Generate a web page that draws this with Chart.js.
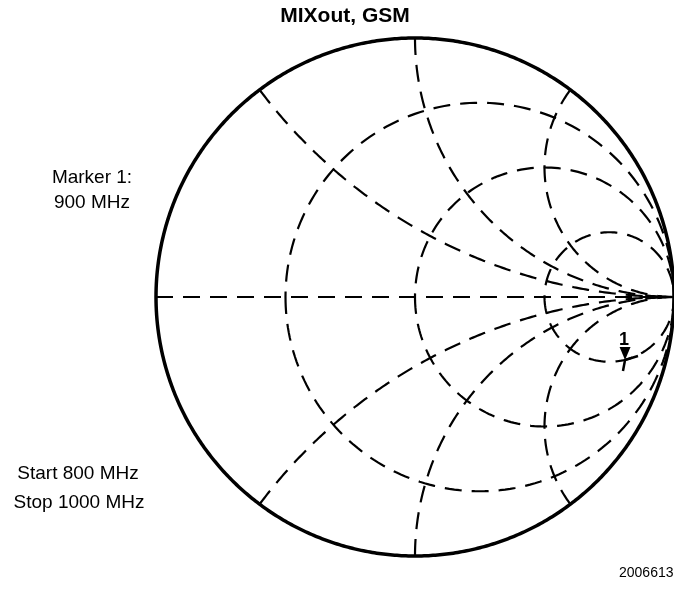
<!DOCTYPE html>
<html>
<head>
<meta charset="utf-8">
<script src="https://cdn.jsdelivr.net/npm/chart.js@4"></script>
<style>
  html, body { margin: 0; padding: 0; background: #fff; }
  #smith { display: block; }
</style>
</head>
<body>
<canvas id="smith" width="674" height="591"></canvas>
<script>
// Smith chart grid values (normalized impedance)
const resistanceValues = [1 / 3, 1, 3];
const reactanceValues = [0.5, 1, 2];

const traceFreqMHz = [800, 900, 1000];
const traceGammaRe = [0.803, 0.811, 0.861];
const traceGammaIm = [-0.286, -0.243, -0.228];
const markerIndex = 1;

const titleText = 'MIXout, GSM';
const markerLines = ['Marker 1:', '900 MHz'];
const sweepLines = ['Start 800 MHz', 'Stop 1000 MHz'];
const figureId = '20066131';

function arc(cx, cy, rad, a0, a1, n) {
    const pts = [];
    for (let i = 0; i <= n; i++) {
        const a = a0 + (a1 - a0) * i / n;
        pts.push({ x: cx + rad * Math.cos(a), y: cy + rad * Math.sin(a) });
    }
    return pts;
}

const dashStyle = {
    showLine: true,
    pointRadius: 0,
    borderColor: '#000',
    borderWidth: 2.2,
    borderDash: [17, 10],
    fill: false
};

const datasets = [];

// outer circle r = 0 (tiny tension keeps chart.js off its x-sorted fast path)
datasets.push({ data: arc(0, 0, 1, 0, 2 * Math.PI, 360), showLine: true, pointRadius: 0,
    borderColor: '#000', borderWidth: 3.5, fill: false, tension: 0.001 });

// real axis
datasets.push(Object.assign({ data: [{ x: -1, y: 0 }, { x: 1, y: 0 }] }, dashStyle));

// constant resistance circles
resistanceValues.forEach(r => {
    datasets.push(Object.assign({ data: arc(r / (1 + r), 0, 1 / (1 + r), Math.PI, 3 * Math.PI, 240) }, dashStyle));
});

// constant reactance arcs, both signs
reactanceValues.forEach(x => {
    const ex = (x * x - 1) / (x * x + 1);
    const ey = 2 * x / (x * x + 1);
    const a0 = Math.atan2(ey - 1 / x, ex - 1);
    const up = arc(1, 1 / x, 1 / x, a0 < 0 ? a0 + 2 * Math.PI : a0, 1.5 * Math.PI, 200);
    datasets.push(Object.assign({ data: up }, dashStyle));
    datasets.push(Object.assign({ data: up.map(p => ({ x: p.x, y: -p.y })) }, dashStyle));
});

// trace
datasets.push({
    data: traceFreqMHz.map((f, i) => ({ x: traceGammaRe[i], y: traceGammaIm[i] })),
    showLine: true, pointRadius: 0, borderColor: '#000', borderWidth: 2.5, fill: false,
    tension: 0.001
});

const textPlugin = {
    id: 'smithText',
    afterDatasetsDraw(chart) {
        const c = chart.ctx;
        const xs = chart.scales.x, ys = chart.scales.y;
        const mx = xs.getPixelForValue(traceGammaRe[markerIndex]);
        const my = ys.getPixelForValue(traceGammaIm[markerIndex]);
        c.save();
        c.fillStyle = '#000';
        c.beginPath();
        c.moveTo(mx, my);
        c.lineTo(mx - 5.5, my - 13);
        c.lineTo(mx + 5.5, my - 13);
        c.closePath();
        c.fill();
        c.font = 'bold 18px "Liberation Sans", Arial, sans-serif';
        c.textAlign = 'center';
        c.textBaseline = 'alphabetic';
        c.fillText('1', mx - 1, my - 15);

        c.font = 'bold 21px "Liberation Sans", Arial, sans-serif';
        c.textBaseline = 'middle';
        c.fillText(titleText, 345, 16);

        c.font = '19px "Liberation Sans", Arial, sans-serif';
        c.fillText(markerLines[0], 92, 178);
        c.fillText(markerLines[1], 92, 203);
        c.fillText(sweepLines[0], 78, 474);
        c.fillText(sweepLines[1], 79, 503);

        c.font = '14px "Liberation Sans", Arial, sans-serif';
        c.textAlign = 'left';
        c.fillText(figureId, 619, 573);
        c.restore();
    }
};

const chart = new Chart(document.getElementById('smith').getContext('2d'), {
    type: 'scatter',
    data: { datasets: datasets },
    options: {
        responsive: false,
        animation: false,
        layout: { padding: 0 },
        plugins: { legend: { display: false }, tooltip: { enabled: false } },
        scales: {
            x: { type: 'linear', min: -415 / 259, max: 259 / 259, display: false },
            y: { type: 'linear', min: -294 / 259, max: 297 / 259, display: false }
        }
    },
    plugins: [textPlugin]
});
</script>
</body>
</html>
